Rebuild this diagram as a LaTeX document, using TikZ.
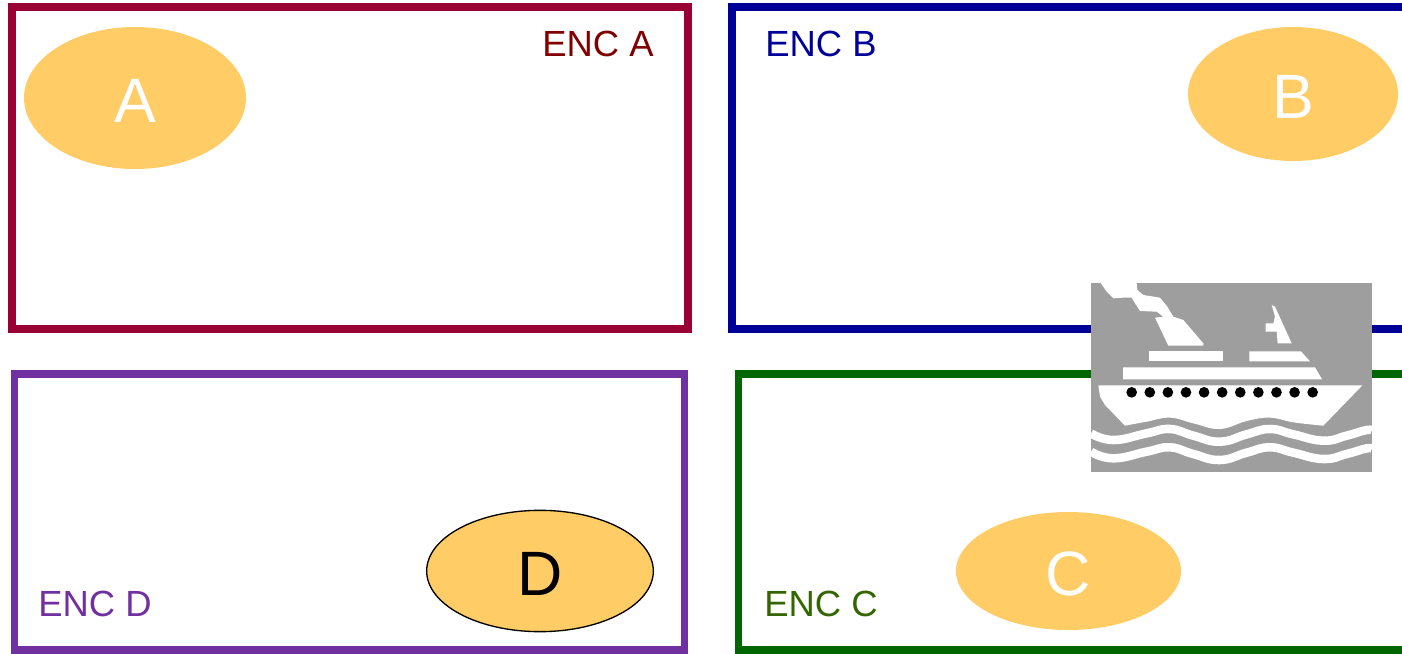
\documentclass[tikz,border=0pt]{standalone}
\usepackage{fontspec}
\setmainfont{Liberation Sans}
\usetikzlibrary{shapes.geometric}
\definecolor{encared}{HTML}{990033}
\definecolor{enclabel}{HTML}{800000}
\definecolor{encblue}{HTML}{000099}
\definecolor{encgreen}{HTML}{006600}
\definecolor{encgreenlabel}{HTML}{336600}
\definecolor{encpurple}{HTML}{7030A0}
\definecolor{zonefill}{HTML}{FFCC66}
\definecolor{shipgray}{HTML}{9E9E9E}
\tikzset{
    frame/.style={draw=#1,line width=6pt,fill=none},
    enclabel/.style={font=\fontsize{27.3}{30}\selectfont,inner sep=0pt},
    zone/.style={ellipse,fill=zonefill,inner sep=0pt,text=white,text height=36pt,text depth=0pt,font=\fontsize{47}{50}\selectfont},
    wave/.style={draw=white,line width=6.4pt}
}
\begin{document}
\begin{tikzpicture}[x=0.75pt,y=-0.75pt]
    \clip (0,0) rectangle (1402,653);
    \fill[white] (0,0) rectangle (1402,653);
    \draw[frame=encared] (12,7) rectangle (688,328.5);
    \draw[frame=encblue] (732,7) rectangle (1440,328.5);
    \draw[frame=encpurple,line width=5.4pt] (14.5,374) rectangle (684.5,650);
    \draw[frame=encgreen,line width=5.4pt] (738.5,374) rectangle (1440,650);
    \node[zone,minimum width=166.5pt,minimum height=106.5pt] (zonea) at (135,98) {A};
    \node[zone,minimum width=157.5pt,minimum height=100.5pt] (zoneb) at (1293,94) {B};
    \node[zone,minimum width=168.75pt,minimum height=88.5pt] (zonec) at (1068.5,571) {C};
    \node[zone,draw=black,line width=1pt,text=black,minimum width=170pt,minimum height=91pt] (zoned) at (540,571) {D};
    \node[enclabel,text=enclabel] (enca) at (598,44) {ENC A};
    \node[enclabel,text=encblue] (encb) at (821,44) {ENC B};
    \node[enclabel,text=encgreenlabel] (encc) at (821,604) {ENC C};
    \node[enclabel,text=encpurple] (encd) at (95,604) {ENC D};
    \begin{scope}[shift={(1080,275)},x=0.25pt,y=-0.25pt]
        \fill[shipgray] (33,24) rectangle (876,591);
        \fill[white] (62,24) -- (170,24) -- (172,45) -- (190,60) -- (240,68) -- (262,95) -- (280,125)
            -- (310,135) -- (370,205) -- (370,212) -- (265,212) -- (225,128) -- (250,125) -- (230,110)
            -- (180,108) -- (165,85) -- (155,68) -- (130,68) -- (100,70) -- (80,50) -- cycle;
        \fill[white] (575,90) -- (585,95) -- (635,205) -- (593,205) -- (590,170) -- (557,170)
            -- (557,145) -- (580,145) -- (585,125) -- cycle;
        \fill[white] (207,229) rectangle (430,259);
        \fill[white] (508,229) -- (663,229) -- (690,259) -- (508,259) -- cycle;
        \fill[white] (129,277) -- (705,277) -- (726,313) -- (129,313) -- cycle;
        \fill[white] (55,331) -- (847,331) -- (730,452) -- plot[smooth,tension=0.7] coordinates {(730,452) (640,442)
            (570,428) (500,438) (420,462) (340,445) (270,428) (200,440) (135,452)} -- (75,390) -- (60,365) -- cycle;
        \foreach \i in {0,...,10}
            \fill[black] (155+54.3*\i,352) circle (16);
        \foreach \dy in {0,55}
            \draw[wave,yshift=-\dy*0.25pt] plot[smooth,tension=0.8] coordinates {(33,475) (100,495) (200,475)
                (270,462) (340,482) (420,500) (500,478) (570,462) (640,478) (730,497) (800,482) (860,465) (876,468)};
    \end{scope}
\end{tikzpicture}
\end{document}
